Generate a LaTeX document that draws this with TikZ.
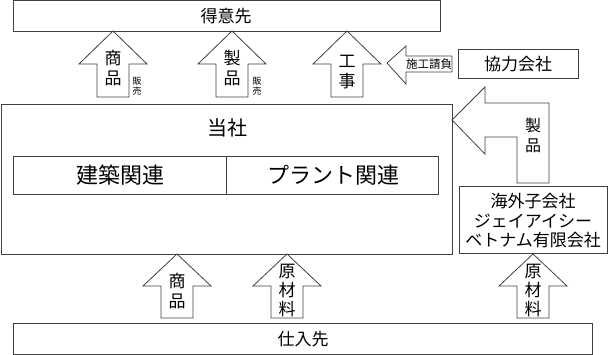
\documentclass[tikz,border=0pt]{standalone}
\usepackage{fontspec}
\setmainfont{Noto Sans CJK JP}
\usepackage{tikz}

\begin{document}
\begin{tikzpicture}[x=1pt,y=-1pt,
  line/.style={draw=black!75,line width=0.8pt},
  big/.style={font=\fontsize{17}{20}\selectfont,align=center,inner sep=0pt},
  huge/.style={font=\fontsize{22}{26}\selectfont,inner sep=0pt},
  tiny/.style={font=\fontsize{9}{10}\selectfont,align=center,inner sep=0pt}]
\useasboundingbox (0,0) rectangle (608,355);
% 得意先
\draw[line] (13,0) rectangle (440,31);
\node[big] (tokui) at (226,16) {得意先};
% 上向きの矢印
\foreach \cx in {113,232,347}
  \draw[line] (\cx,31) -- ++(34,33) -- ++(-18,0) -- ++(0,33) -- ++(-32,0) -- ++(0,-33) -- ++(-18,0) -- cycle;
\node[big] (shohinA) at (113,68) {商\\品};
\node[tiny] (hanbaiA) at (137,86) {販\\売};
\node[big] (seihinA) at (232,68) {製\\品};
\node[tiny] (hanbaiB) at (257,86) {販\\売};
\node[big] (koji) at (347,72) {工\\事};
% 施工請負
\draw[line] (387,63) -- (406,46) -- (406,56) -- (452,56) -- (452,72) -- (406,72) -- (406,84) -- cycle;
\node[font=\fontsize{11.5}{13}\selectfont,inner sep=0pt] (seko) at (429,64) {施工請負};
\draw[line] (458,49) rectangle (578,78);
\node[big] (kyoryoku) at (518,64) {協力会社};
% 当社
\draw[line] (1,104) rectangle (452,254);
\node[font=\fontsize{20}{24}\selectfont,inner sep=0pt] (tosha) at (227,128) {当社};
\draw[line] (13,156) rectangle (438,194);
\draw[line] (226,156) -- (226,194);
\node[huge] (kenchiku) at (120,175) {建築関連};
\node[huge] (plant) at (333,175) {プラント関連};
% 海外子会社からの製品
\draw[line] (452,120) -- (485,87) -- (485,103) -- (549,103) -- (549,183) -- (517,183)
  -- (517,137) -- (485,137) -- (485,154) -- cycle;
\node[font=\fontsize{16}{20}\selectfont,align=center,inner sep=0pt] (seihinB) at (533,135) {製\\品};
\draw[line] (459,186) rectangle (607,253);
\node[font=\fontsize{17}{19.5}\selectfont,align=center,inner sep=0pt] (kaigai) at (533,221) {海外子会社\\ジェイアイシー\\ベトナム有限会社};
% 下向きの矢印
\foreach \cx in {177,287,533}
  \draw[line] (\cx,254) -- ++(34,32) -- ++(-18,0) -- ++(0,32) -- ++(-32,0) -- ++(0,-32) -- ++(-18,0) -- cycle;
\node[big] (shohinB) at (177,291) {商\\品};
\node[font=\fontsize{17}{19}\selectfont,align=center,inner sep=0pt] (genzaiA) at (287,291) {原\\材\\料};
\node[font=\fontsize{17}{19}\selectfont,align=center,inner sep=0pt] (genzaiB) at (533,291) {原\\材\\料};
% 仕入先
\draw[line] (13,323) rectangle (592,354);
\node[big] (shiire) at (303,339) {仕入先};
\end{tikzpicture}
\end{document}
